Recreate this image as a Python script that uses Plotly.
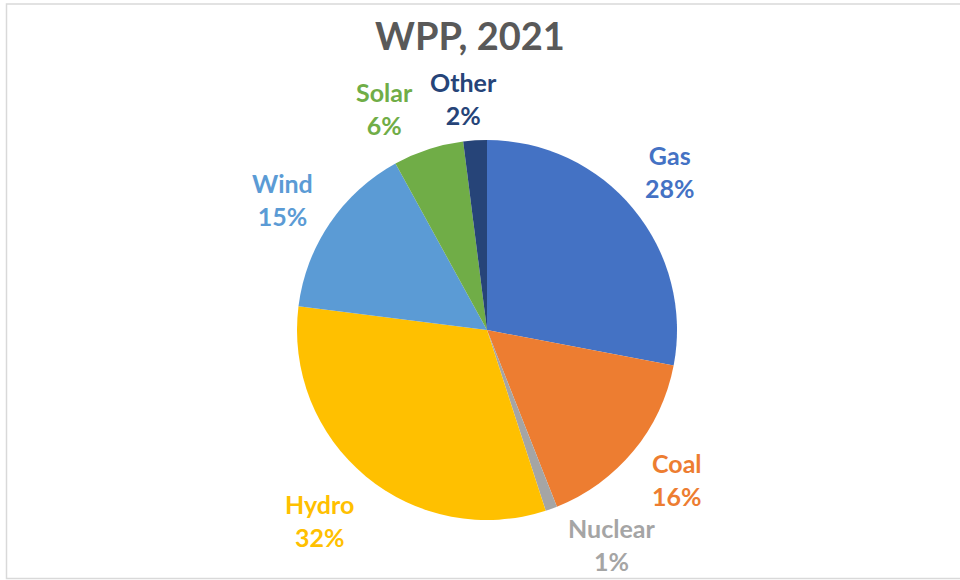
import plotly.graph_objects as go

labels = ["Gas", "Coal", "Nuclear", "Hydro", "Wind", "Solar", "Other"]
values = [28, 16, 1, 32, 15, 6, 2]
colors = ["#4472C4", "#ED7D31", "#A5A5A5", "#FFC000", "#5B9BD5", "#70AD47", "#264478"]
title_text = "WPP, 2021"

W, H = 960, 580
cx, cy, R = 487, 330, 190  # pie centre / radius in pixels

# data-label placement (pixel centres of each label block) - layout only
label_pos = {
    "Gas": (670, 172), "Coal": (677, 479), "Nuclear": (611, 544),
    "Hydro": (319, 520), "Wind": (282, 199), "Solar": (384, 108), "Other": (463, 98),
}

fig = go.Figure(go.Pie(
    labels=labels, values=values, sort=False, direction="clockwise", rotation=0,
    marker=dict(colors=colors, line=dict(width=0)),
    textinfo="none", hoverinfo="label+percent", showlegend=False,
    domain=dict(x=[(cx - R) / W, (cx + R) / W], y=[(H - cy - R) / H, (H - cy + R) / H]),
))

total = sum(values)
annotations = []
for lab, v, col in zip(labels, values, colors):
    px, py = label_pos[lab]
    annotations.append(dict(
        x=px / W, y=1 - py / H, xref="paper", yref="paper",
        text=f"<b>{lab}<br>{round(v / total * 100)}%</b>", showarrow=False,
        font=dict(family="Lato", size=25, color=col), align="center",
        xanchor="center", yanchor="middle",
    ))

fig.update_layout(
    width=W, height=H, margin=dict(l=0, r=0, t=0, b=0),
    paper_bgcolor="white", plot_bgcolor="white",
    title=dict(text=f"<b>{title_text}</b>", x=470 / W, xanchor="center",
               y=1 - 37 / H, yanchor="middle", yref="container",
               font=dict(family="Lato", size=38, color="#595959")),
    annotations=annotations,
    shapes=[dict(type="rect", xref="paper", yref="paper",
                 x0=6.5 / W, x1=1.02, y0=1 - 578.5 / H, y1=1 - 4 / H,
                 line=dict(color="#D9D9D9", width=1.5), fillcolor="rgba(0,0,0,0)")],
)

fig.write_html("out.html")
